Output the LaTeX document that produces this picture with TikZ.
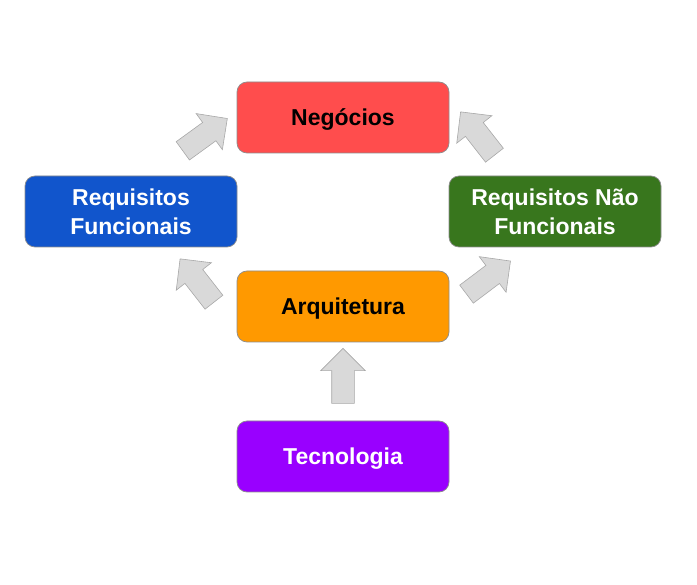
\documentclass[tikz,border=0pt]{standalone}
\usepackage{fontspec}
\setmainfont{Liberation Sans}
\usepackage{tikz}
\usetikzlibrary{
    shapes,
    shapes.arrows,
    positioning,
    calc,
}
\definecolor{negRed}{HTML}{FF4D4D}
\definecolor{reqBlue}{HTML}{1155CC}
\definecolor{reqGreen}{HTML}{38761D}
\definecolor{arqOrange}{HTML}{FF9900}
\definecolor{tecPurple}{HTML}{9900FF}
\definecolor{arrowFill}{HTML}{D9D9D9}
\definecolor{arrowLine}{HTML}{A8A8A8}

\begin{document}
\begin{tikzpicture}[
    x=1pt, y=1pt,
    layer/.style={draw=black!45, line width=0.7pt, rounded corners=10pt, align=center,
                minimum width=212pt, minimum height=71pt, inner sep=0pt, text depth=0pt,
                font=\fontsize{23}{29}\selectfont\bfseries},
    bigarrow/.style={single arrow, draw=arrowLine, fill=arrowFill, line width=0.6pt,
                minimum height=55pt, minimum width=44pt, inner sep=0pt, inner ysep=11pt,
                single arrow head extend=11pt, single arrow tip angle=90},
]

\useasboundingbox (0,0) rectangle (697,-585);

\node[layer, fill=negRed, text=black] at (343,-117.5) (negocios) {Negócios};
\node[layer, fill=reqBlue, text=white] at (131,-211.5) (reqFunc) {Requisitos\\Funcionais};
\node[layer, fill=reqGreen, text=white] at (555,-211.5) (reqNaoFunc) {Requisitos Não\\Funcionais};
\node[layer, fill=arqOrange, text=black] at (343,-306.5) (arquitetura) {Arquitetura};
\node[layer, fill=tecPurple, text=white] at (343,-456.5) (tecnologia) {Tecnologia};

% setas entre as camadas
\node[bigarrow, rotate=90] at ($(tecnologia.north)!0.5!(arquitetura.south)$) (tecArq) {};
\node[bigarrow, rotate=128] at (200.5,-285) (arqFunc) {};
\node[bigarrow, rotate=37] at (484,-281) (arqNaoFunc) {};
\node[bigarrow, rotate=36] at (200.5,-138) (funcNeg) {};
\node[bigarrow, rotate=128] at (481,-138) (naoFuncNeg) {};

\end{tikzpicture}
\end{document}
